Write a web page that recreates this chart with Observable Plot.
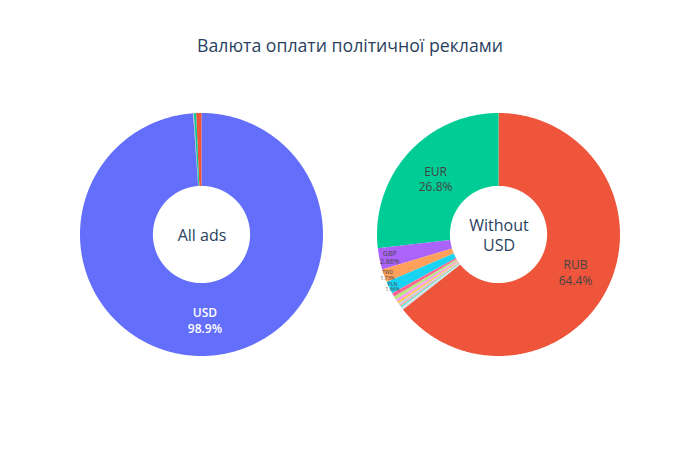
<!DOCTYPE html>
<html>
<head>
<meta charset="utf-8">
<script src="https://cdn.jsdelivr.net/npm/d3@7"></script>
<script src="https://cdn.jsdelivr.net/npm/@observablehq/plot@0.6"></script>
<style>
  body { margin: 0; background: #fff; font-family: "Open Sans", sans-serif; }
  #title { width: 700px; height: 80px; box-sizing: border-box; padding-top: 10px;
           display: flex; align-items: center; justify-content: center;
           font-size: 17.7px; color: #2a3f5f; }
</style>
</head>
<body>
<div id="title">Валюта оплати політичної реклами</div>
<div id="chart"></div>
<script>
// ---- data ----
const charts = ["All ads", "Without USD"];
const holeLabels = ["All ads", "Without\nUSD"];
const currencies = ["USD", "RUB", "EUR", "GBP", "TWD", "PLN", "UAH", "CAD", "CHF", "CZK",
                    "ILS", "AUD", "SEK", "HUF", "NOK", "TRY", "INR"];
const allAdsShare = [98.9, 0.71, 0.29, 0.031, 0.019, 0.018, 0.006, 0.005, 0.004, 0.004,
                     0.003, 0.003, 0.002, 0.002, 0.001, 0.001, 0.001];
const withoutUsdShare = [0, 64.4, 26.8, 2.86, 1.73, 1.66, 0.5, 0.45, 0.35, 0.3,
                         0.25, 0.2, 0.15, 0.12, 0.1, 0.08, 0.05];
const colorway = ["#636efa", "#EF553B", "#00cc96", "#ab63fa", "#FFA15A",
                  "#19d3f3", "#FF6692", "#B6E880", "#FF97FF", "#FECB52"];

// ---- derived ----
const hole = 0.4;
const tau = 2 * Math.PI;
const colors = currencies.map((c, i) => {
  if (i < colorway.length) return colorway[i];
  const h = d3.hsl(colorway[i % colorway.length]);
  h.l = Math.min(1, h.l + 0.2);
  return h.formatHex();
});
const colorOf = new Map(currencies.map((c, i) => [c, colors[i]]));

function slices(chart, shares) {
  const items = currencies.map((c, i) => ({chart, currency: c, value: shares[i]}))
                          .filter(d => d.value > 0)
                          .sort((a, b) => b.value - a.value);
  const total = d3.sum(items, d => d.value);
  items[0].a0 = 0;
  items[0].a1 = items[0].value / total * tau;
  let cum = 0;
  for (let i = 1; i < items.length; i++) {
    items[i].a1 = -cum;
    cum += items[i].value / total * tau;
    items[i].a0 = -cum;
  }
  items.forEach(d => { d.pct = d.value / total * 100; d.mid = (d.a0 + d.a1) / 2; });
  return items;
}

const allSlices = [...slices(charts[0], allAdsShare), ...slices(charts[1], withoutUsdShare)];

// ring outline samples for each slice (geometry only)
const ring = [];
for (const s of allSlices) {
  const n = Math.max(2, Math.ceil((s.a1 - s.a0) / tau * 720));
  for (let k = 0; k <= n; k++) {
    const a = s.a0 + (s.a1 - s.a0) * k / n;
    ring.push({chart: s.chart, currency: s.currency,
               x1: Math.sin(a), y1: Math.cos(a),
               x2: hole * Math.sin(a), y2: hole * Math.cos(a)});
  }
}

// labels inside slices (text shrinks and moves outward in thin slices)
function labelStyle(pct) {
  if (pct >= 5) return {r: 0.7, size: 12, lh: 1.3};
  if (pct >= 2.5) return {r: 0.918, size: 7, lh: 1.12};
  if (pct >= 1.5) return {r: 0.975, size: 5, lh: 1.05};
  return null;
}
const fmt = d3.format(".3r");
function isLight(c) {
  const rgb = d3.rgb(c);
  return (rgb.r * 299 + rgb.g * 587 + rgb.b * 114) / 1000 > 128;
}
const labels = allSlices.map(s => {
  const st = labelStyle(s.pct);
  return st ? {...s, ...st, dark: isLight(colorOf.get(s.currency))} : null;
}).filter(d => d);

const labelMarks = d3.groups(labels, d => d.dark, d => d.lh).flatMap(([dark, byLh]) =>
  byLh.map(([lh, rows]) => Plot.text(rows, {
    fx: "chart",
    x: d => d.r * Math.sin(d.mid),
    y: d => d.r * Math.cos(d.mid),
    text: d => `${d.currency}\n${fmt(d.pct)}%`,
    fontSize: d => d.size,
    lineHeight: lh,
    fill: dark ? "#444" : "white",
    fontWeight: dark ? 400 : 600,
    fontFamily: "Open Sans"
  })));

const chart = Plot.plot({
  width: 700,
  height: 370,
  marginTop: 33,
  marginBottom: 94,
  marginLeft: 80,
  marginRight: 80,
  x: {domain: [-1, 1], axis: null},
  y: {domain: [-1, 1], axis: null},
  fx: {domain: charts, axis: null, paddingInner: 0.182, paddingOuter: 0, round: false},
  color: {domain: currencies, range: colors},
  style: {fontFamily: "Open Sans", background: "white"},
  marks: [
    Plot.area(ring, {fx: "chart", x1: "x1", y1: "y1", x2: "x2", y2: "y2",
                     fill: "currency", z: "currency", curve: "linear"}),
    ...labelMarks,
    Plot.text(charts.map((c, i) => ({chart: c, text: holeLabels[i]})),
              {fx: "chart", frameAnchor: "middle", text: "text", fontSize: 16,
               fill: "#2a3f5f", lineHeight: 1.25, fontFamily: "Open Sans"})
  ]
});
document.getElementById("chart").appendChild(chart);
</script>
</body>
</html>
